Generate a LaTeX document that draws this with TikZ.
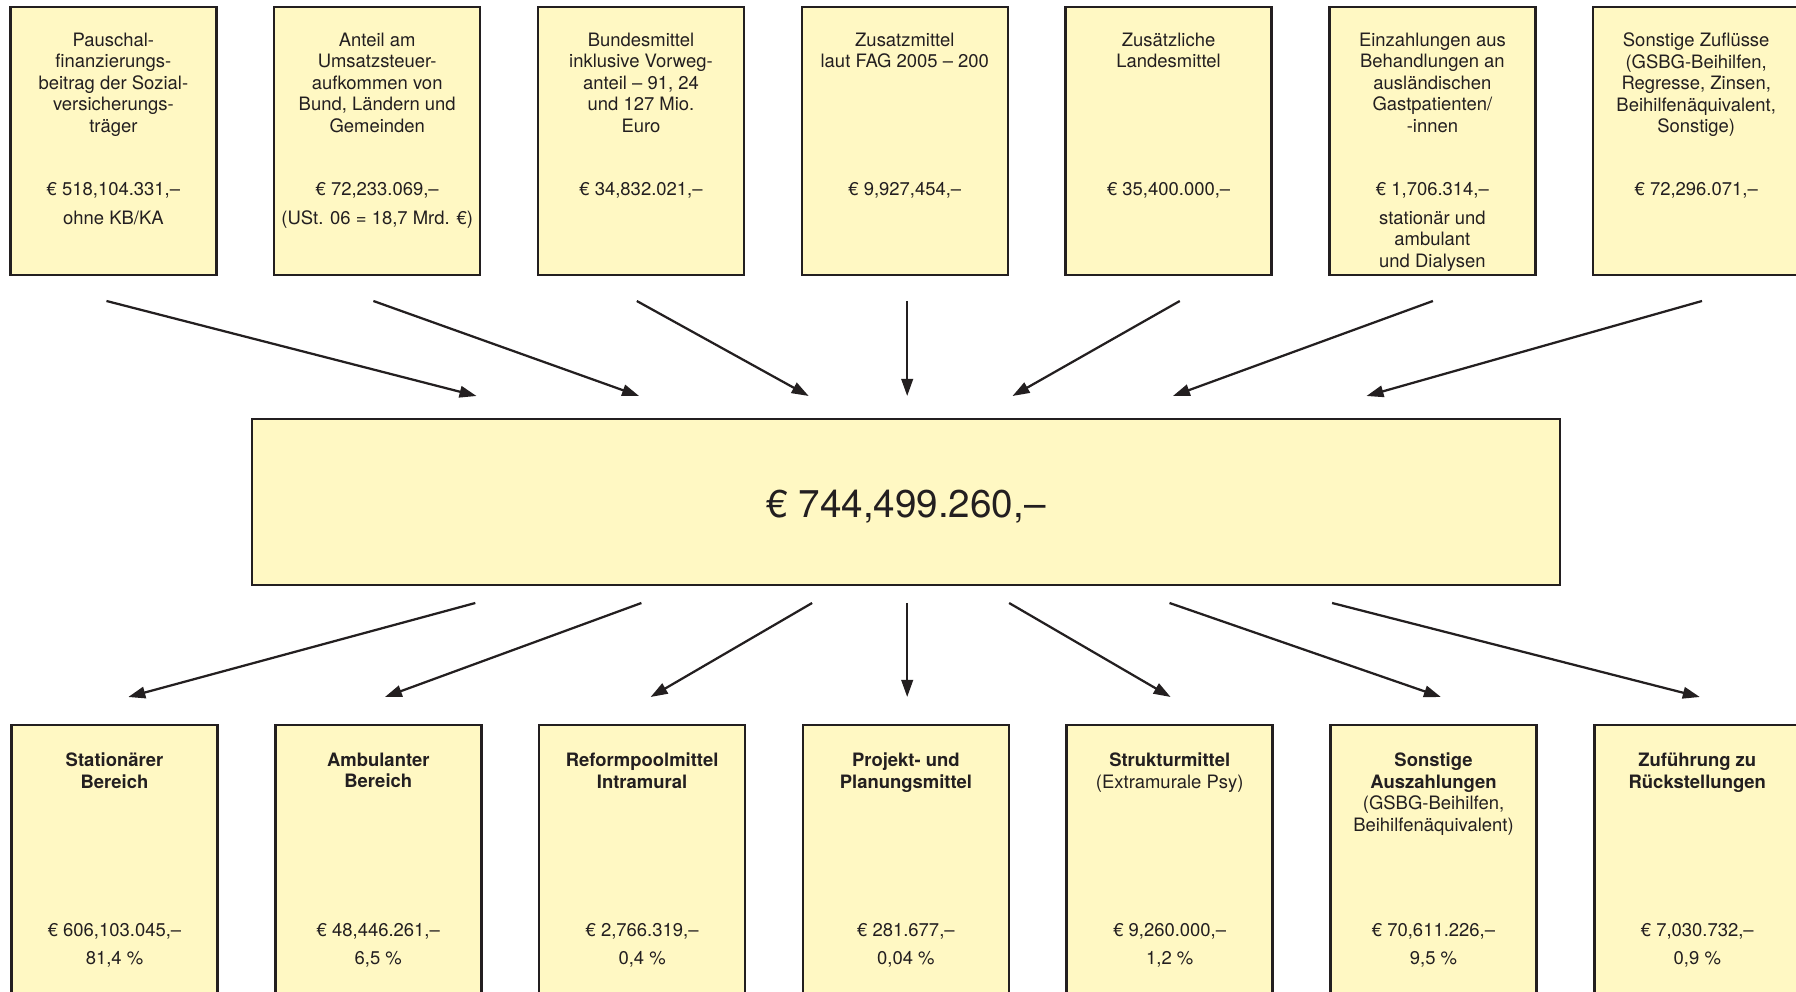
\documentclass[tikz,border=0pt]{standalone}
\usepackage{fontspec}
\setmainfont{TeX Gyre Heros}
\usetikzlibrary{arrows.meta,calc}

\definecolor{ink}{HTML}{231F20}
\definecolor{paper}{HTML}{FFF8C3}

\begin{document}
\begin{tikzpicture}[x=0.2mm,y=-0.2mm,>={Triangle[length=3.4mm,width=2.3mm]},
  box/.style={draw=ink,line width=0.5mm,fill=paper,minimum width=41.2mm,minimum height=53.6mm,inner sep=0pt},
  boxtext/.style={align=center,text=ink,inner sep=0pt,font=\fontsize{10.5}{12.2}\selectfont},
  headtext/.style={boxtext,font=\fontsize{10.5}{12.2}\selectfont\bfseries},
  flow/.style={->,draw=ink,line width=0.45mm}]
  \useasboundingbox (0,0) rectangle (1796,992);
  \clip (0,0) rectangle (1796,992);
  \foreach \i/\ttl/\amt in {
    1/{Pauschal-\\finanzierungs-\\beitrag der Sozial-\\versicherungs-\\träger}/{518,104.331,–},
    2/{Anteil am\\Umsatzsteuer-\\aufkommen von\\Bund, Ländern und\\Gemeinden}/{72,233.069,–},
    3/{Bundesmittel\\inklusive Vorweg-\\anteil – 91, 24\\und 127 Mio.\\Euro}/{34,832.021,–},
    4/{Zusatzmittel\\laut FAG 2005 – 200}/{9,927,454,–},
    5/{Zusätzliche\\Landesmittel}/{35,400.000,–},
    6/{Einzahlungen aus\\Behandlungen an\\ausländischen\\Gastpatienten/\\-innen}/{1,706.314,–},
    7/{Sonstige Zuflüsse\\(GSBG-Beihilfen,\\Regresse, Zinsen,\\Beihilfenäquivalent,\\Sonstige)}/{72,296.071,–}}
  {
    \node[box] (t\i) at ({113.4+263.8*(\i-1)},141) {};
    \node[boxtext,anchor=north] (t\i-title) at ($(t\i.north)+(0,27)$) {\ttl};
    \node[boxtext,anchor=base] (t\i-amount) at ($(t\i.north)+(0,190)$) {€ \amt};
  }
  \node[boxtext,anchor=north] (t1-note) at ($(t1.north)+(0,205)$) {ohne KB/KA};
  \node[boxtext,anchor=north] (t2-note) at ($(t2.north)+(0,205)$) {(USt. 06 = 18,7 Mrd. €)};
  \node[boxtext,anchor=north] (t6-note) at ($(t6.north)+(0,205)$) {stationär und\\ambulant\\und Dialysen};

  \node[box,minimum width=261.6mm,minimum height=33.2mm] (sum) at (906,502) {};
  \node[boxtext,font=\fontsize{22}{26}\selectfont] (sum-amount) at ($(sum)+(0,4.5)$) {€ 744,499.260,–};

  \foreach \i/\ttl/\amt/\pct in {
    1/{Stationärer\\Bereich}/{606,103.045,–}/{81,4 \%},
    2/{Ambulanter\\Bereich}/{48,446.261,–}/{6,5 \%},
    3/{Reformpoolmittel\\Intramural}/{2,766.319,–}/{0,4 \%},
    4/{Projekt- und\\Planungsmittel}/{281.677,–}/{0,04 \%},
    5/{Strukturmittel\\\mdseries(Extramurale Psy)}/{9,260.000,–}/{1,2 \%},
    6/{Sonstige\\Auszahlungen\\\mdseries(GSBG-Beihilfen,\\\mdseries Beihilfenäquivalent)}/{70,611.226,–}/{9,5 \%},
    7/{Zuführung zu\\Rückstellungen}/{7,030.732,–}/{0,9 \%}}
  {
    \node[box] (b\i) at ({114.5+263.8*(\i-1)},859) {};
    \node[headtext,anchor=north] (b\i-title) at ($(b\i.north)+(0,29)$) {\ttl};
    \node[boxtext,anchor=base] (b\i-amount) at ($(b\i.north)+(0,213)$) {€ \amt};
    \node[boxtext,anchor=base] (b\i-share) at ($(b\i.north)+(0,241)$) {\pct};
  }

  \foreach \i/\xs/\xe in {1/106.5/476.5,2/373.4/639.1,3/636.8/808.7,4/907.2/907.2,
                          5/1179.8/1012.5,6/1432.9/1172.9,7/1702/1366.5}
  {
    \coordinate (in\i-start) at (\xs,301);
    \coordinate (in\i-end) at (\xe,396);
    \draw[flow] (in\i-start) -- (in\i-end);
  }
  \foreach \i/\xs/\xe in {1/475.3/128.3,2/641.4/384.9,3/812.1/650.6,4/907.2/907.2,
                          5/1009.1/1170.6,6/1169.5/1440.9,7/1332.1/1699.8}
  {
    \coordinate (out\i-start) at (\xs,603);
    \coordinate (out\i-end) at (\xe,697);
    \draw[flow] (out\i-start) -- (out\i-end);
  }
\end{tikzpicture}
\end{document}
